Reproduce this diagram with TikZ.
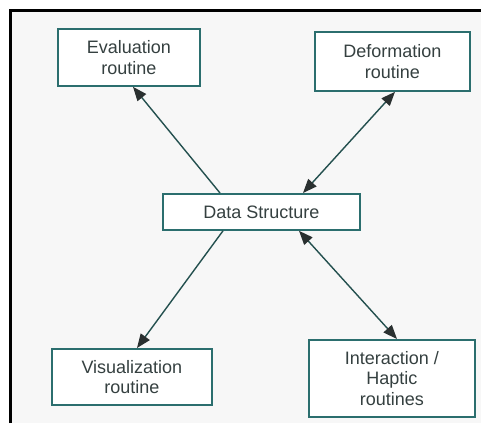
\documentclass[tikz,border=0pt]{standalone}
\usepackage{fontspec}
\setmainfont{Liberation Sans}
\usetikzlibrary{arrows.meta}
\definecolor{boxedge}{HTML}{2B6E6E}
\definecolor{linkcol}{HTML}{24504F}
\definecolor{txtcol}{HTML}{354040}
\definecolor{paper}{HTML}{F7F7F7}
\definecolor{tipcol}{HTML}{2A3030}
\tikzset{
  tiphead/.tip={Triangle[length=14pt,width=11pt,color=tipcol]},
  routine/.style={draw=boxedge, line width=1.8pt, fill=white, text=txtcol,
    inner sep=0pt, align=center, font=\fontsize{18}{20.5}\selectfont, anchor=north west},
  link/.style={draw=linkcol, line width=1.4pt, -tiphead},
  duallink/.style={draw=linkcol, line width=1.4pt, tiphead-tiphead}
}
\begin{document}
\begin{tikzpicture}[x=1pt,y=-1pt]
  \useasboundingbox (0,0) rectangle (481,423);
  % paper and frame
  \fill[white] (0,0) rectangle (481,423);
  \fill[paper] (10,10) rectangle (481,423);
  \draw[black, line width=3pt] (10,423) -- (10,10) -- (481,10);

  % routines
  \node[routine, minimum width=142pt, minimum height=57pt] (eval) at (57,28) {Evaluation\\routine};
  \node[routine, minimum width=155pt, minimum height=59pt] (deform) at (314,31) {Deformation\\routine};
  \node[routine, minimum width=197pt, minimum height=36pt] (data) at (162,193) {Data Structure};
  \node[routine, minimum width=160pt, minimum height=56pt] (vis) at (51,348) {Visualization\\routine};
  \node[routine, minimum width=166pt, minimum height=77pt] (inter) at (308,339) {Interaction /\\Haptic\\routines};

  % attachment points on the box edges
  \path (data.north west) ++(58,0) coordinate (d1);
  \path (eval.south west) ++(76,0) coordinate (e1);
  \path (data.north west) ++(141,0) coordinate (d2);
  \path (deform.south west) ++(81,0) coordinate (f2);
  \path (data.south west) ++(61,0) coordinate (d3);
  \path (vis.north west) ++(86,0) coordinate (v3);
  \path (data.south west) ++(137,0) coordinate (d4);
  \path (inter.north west) ++(89,0) coordinate (i4);

  % connectors
  \draw[link] (d1) -- (e1);
  \draw[duallink] (d2) -- (f2);
  \draw[link] (d3) -- (v3);
  \draw[duallink] (d4) -- (i4);
\end{tikzpicture}
\end{document}
